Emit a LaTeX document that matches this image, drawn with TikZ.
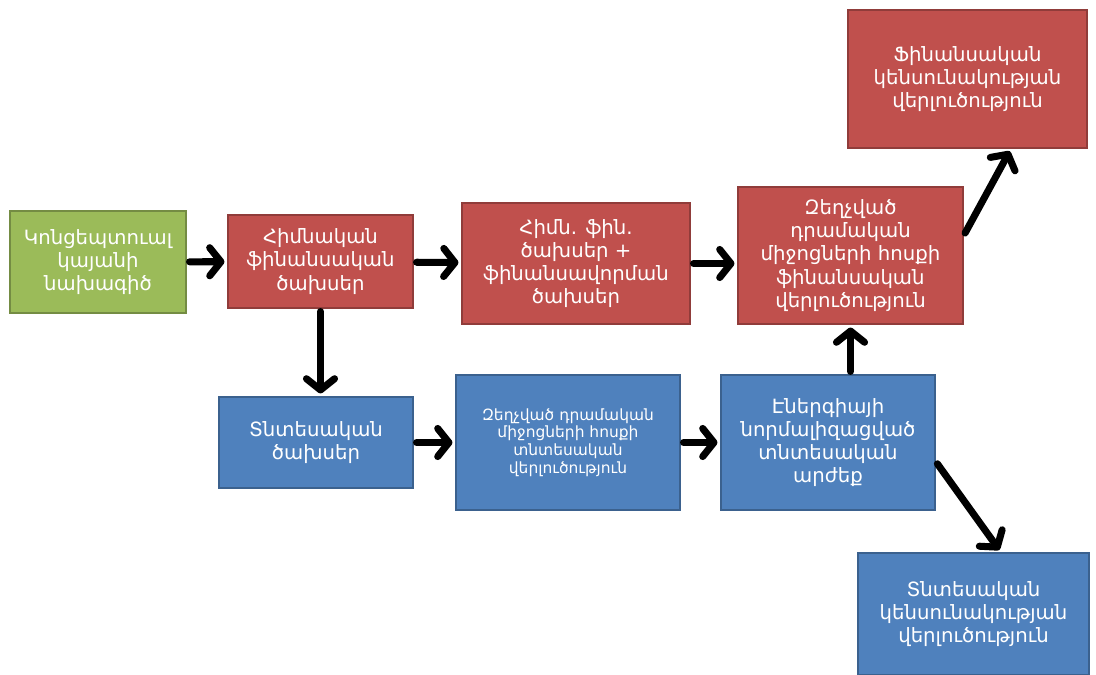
\documentclass[tikz,border=0pt]{standalone}
\usepackage{fontspec}
\setmainfont{DejaVu Sans}
\usetikzlibrary{arrows.meta}
\definecolor{boxred}{HTML}{C0504D}
\definecolor{boxblue}{HTML}{4F81BD}
\definecolor{boxgreen}{HTML}{9BBB59}
\begin{document}
\begin{tikzpicture}[x=0.025cm,y=-0.025cm,
  box/.style={draw=#1!75!black,fill=#1,line width=1pt,text=white,align=center,
    inner sep=2pt,font=\fontsize{14}{16.5}\selectfont},
  flow/.style={line width=5pt,-{Straight Barb[length=8pt,width=20pt,round]},
    line cap=round,shorten <=2pt,shorten >=2pt}]
\useasboundingbox (0,0) rectangle (1096,675);

% Financial path (top row).
\node[box=boxgreen,minimum width=4.4cm,minimum height=2.55cm] (concept) at (98,262)
  {Կոնցեպտուալ\\կայանի\\նախագիծ};
\node[box=boxred,minimum width=4.625cm,minimum height=2.325cm] (capex) at (320.5,261.5)
  {Հիմնական\\ֆինանսական\\ծախսեր};
\node[box=boxred,minimum width=5.7cm,minimum height=3.025cm] (fincost) at (576,263.5)
  {Հիմն. ֆին.\\ծախսեր +\\ֆինանսավորման\\ծախսեր};
\node[box=boxred,minimum width=5.625cm,minimum height=3.425cm] (fdcf) at (850.5,255.5)
  {Զեղչված\\դրամական\\միջոցների հոսքի\\ֆինանսական\\վերլուծություն};
\node[box=boxred,minimum width=5.975cm,minimum height=3.45cm] (fviab) at (967.5,79)
  {Ֆինանսական\\կենսունակության\\վերլուծություն};

% Economic path (bottom row).
\node[box=boxblue,minimum width=4.85cm,minimum height=2.275cm] (ecost) at (316,442.5)
  {Տնտեսական\\ծախսեր};
\node[box=boxblue,minimum width=5.6cm,minimum height=3.375cm,
  font=\fontsize{11}{12.5}\selectfont] (edcf) at (568,442.5)
  {Զեղչված դրամական\\միջոցների հոսքի\\տնտեսական\\վերլուծություն};
\node[box=boxblue,minimum width=5.35cm,minimum height=3.375cm] (lcoe) at (828,442.5)
  {Էներգիայի\\նորմալիզացված\\տնտեսական\\արժեք};
\node[box=boxblue,minimum width=5.775cm,minimum height=3.05cm] (eviab) at (973.5,614)
  {Տնտեսական\\կենսունակության\\վերլուծություն};

% Connectors.
\draw[flow] (concept) -- (capex);
\draw[flow] (capex) -- (fincost);
\draw[flow] (fincost) -- (fincost -| fdcf.west);
\draw[flow] (fdcf.10) -- (fviab.-58);
\draw[flow] (capex.south) -- (ecost.north -| capex.south);
\draw[flow] (ecost) -- (edcf);
\draw[flow] (edcf) -- (lcoe);
\draw[flow] (lcoe.north -| fdcf.south) -- (fdcf.south);
\draw[flow] (lcoe.-10) -- (eviab.66);
\end{tikzpicture}
\end{document}
